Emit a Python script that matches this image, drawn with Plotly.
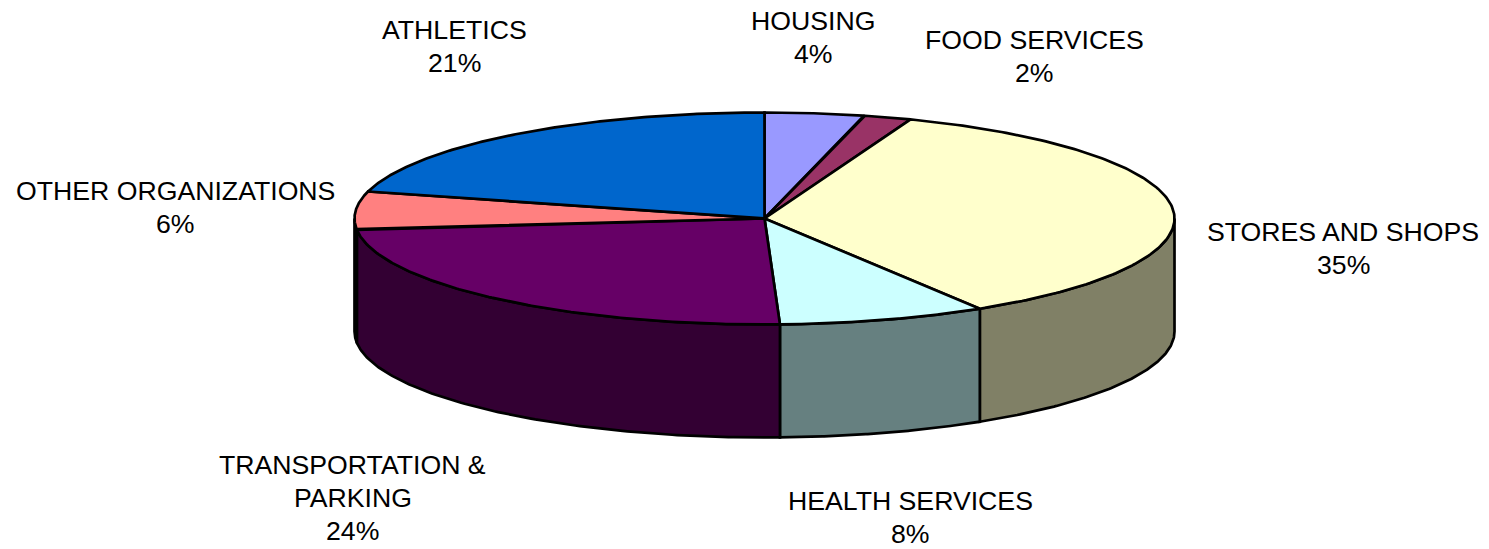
import numpy as np
import plotly.graph_objects as go

categories = ["HOUSING", "FOOD SERVICES", "STORES AND SHOPS", "HEALTH SERVICES",
              "TRANSPORTATION &<br>PARKING", "OTHER ORGANIZATIONS", "ATHLETICS"]
values = [3.9, 1.9, 35.4, 8.2, 23.9, 5.8, 20.9]
top_colors = ["#9999FF", "#993366", "#FFFFCC", "#CCFFFF", "#660066", "#FF8080", "#0066CC"]
side_colors = ["#666699", "#662244", "#808066", "#668080", "#330033", "#804040", "#003366"]
label_pos = [(813, 21), (1034, 40), (1343, 232), (910, 501), (352.5, 465), (175, 191), (454, 30)]
LINE_STEP = 33

CX, CY, RX, RY, DEPTH = 764.5, 218.5, 410, 106, 113


def pt(deg):
    r = np.radians(deg)
    return CX + RX * np.sin(r), CY - RY * np.cos(r)


fig = go.Figure()
edges = np.concatenate([[0], np.cumsum(values)]) / sum(values) * 360

# side walls (only the front half of the rim is visible)
for i in range(len(values)):
    a0, a1 = max(edges[i], 90), min(edges[i + 1], 270)
    if a1 <= a0:
        continue
    t = np.linspace(a0, a1, 120)
    x, y = pt(t)
    fig.add_trace(go.Scatter(
        x=np.concatenate([x, x[::-1], x[:1]]),
        y=np.concatenate([y, y[::-1] + DEPTH, y[:1]]),
        mode="lines", fill="toself", fillcolor=side_colors[i],
        line=dict(color="black", width=2.7), hoverinfo="skip"))

# top faces
for i in range(len(values)):
    t = np.linspace(edges[i], edges[i + 1], 160)
    x, y = pt(t)
    fig.add_trace(go.Scatter(
        x=np.concatenate([[CX], x, [CX]]),
        y=np.concatenate([[CY], y, [CY]]),
        mode="lines", fill="toself", fillcolor=top_colors[i],
        line=dict(color="black", width=2.7), name=categories[i], hoverinfo="name"))

for name, v, (lx, ly) in zip(categories, values, label_pos):
    lines = name.split("<br>") + [f"{round(v)}%"]
    for k, line in enumerate(lines):
        fig.add_annotation(x=lx, y=ly + k * LINE_STEP, text=line, showarrow=False,
                           xanchor="center", yanchor="middle", align="center",
                           font=dict(family="Liberation Sans", size=26.67, color="black"))

fig.update_layout(
    width=1489, height=549, margin=dict(l=0, r=0, t=0, b=0),
    paper_bgcolor="white", plot_bgcolor="white", showlegend=False,
    xaxis=dict(range=[0, 1489], visible=False, fixedrange=True),
    yaxis=dict(range=[549, 0], visible=False, fixedrange=True),
)
fig.write_html("out.html", config=dict(displayModeBar=False),
               post_script="document.body.style.margin='0';document.documentElement.style.overflow='hidden';")
